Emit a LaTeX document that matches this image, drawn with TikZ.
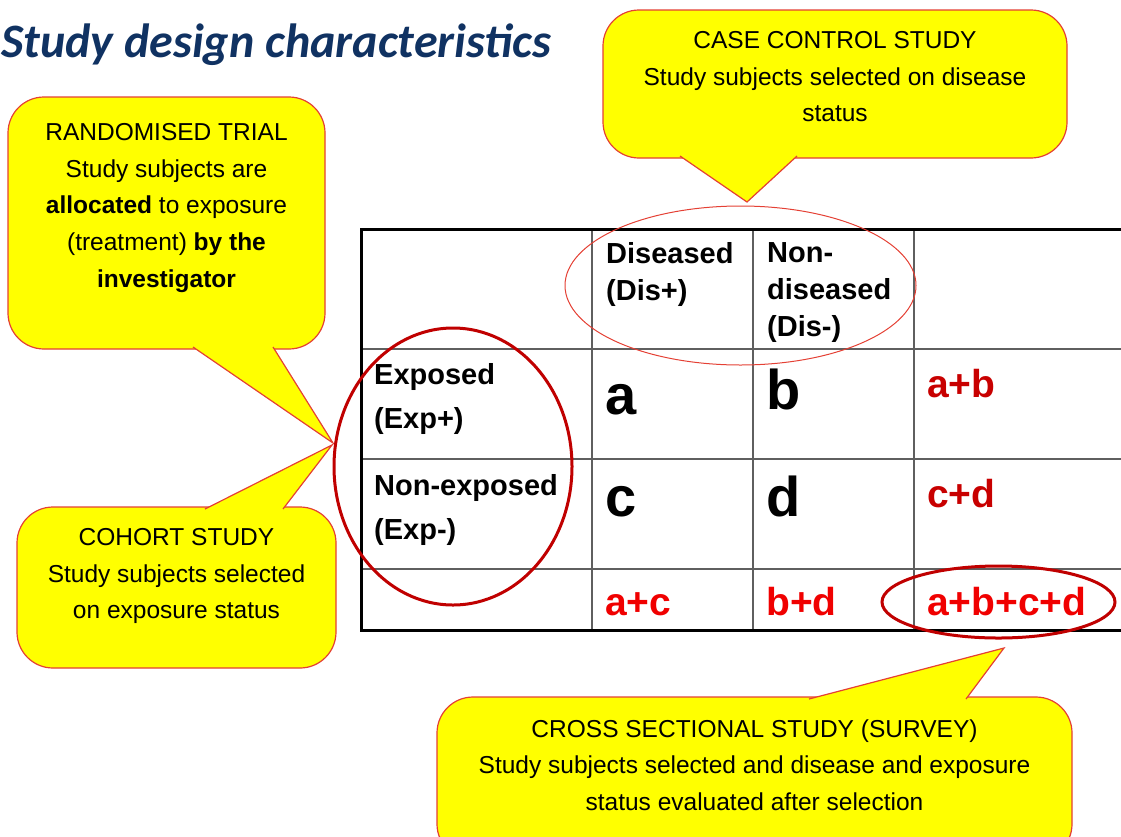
\documentclass[tikz,border=0pt]{standalone}
\usepackage{fontspec}
\setmainfont{Liberation Sans}
\newfontfamily\titlefont{Carlito}
\usepackage{xcolor}
\usetikzlibrary{positioning,shapes.geometric}
\definecolor{callyellow}{RGB}{255,255,0}
\definecolor{callred}{RGB}{228,64,52}
\definecolor{ringred}{RGB}{192,0,0}
\definecolor{sumred}{RGB}{200,0,0}
\definecolor{totred}{RGB}{240,0,0}
\definecolor{titleblue}{RGB}{16,50,98}
\definecolor{gridgray}{RGB}{95,95,95}

\begin{document}
\begin{tikzpicture}[%
    x=1pt,
    y=-1pt,
    callbox/.style={%
      rectangle,
      rounded corners=36pt,
      fill=callyellow,
      draw=callred,
      line width=1.2pt
    },
    calltext/.style={%
      align=center,
      inner sep=0pt,
      anchor=north,
      font=\fontsize{24.5}{36.6}\selectfont
    },
    tailfill/.style={fill=callyellow},
    tailline/.style={draw=callred, line width=1.2pt, line join=miter},
    hdr/.style={%
      align=left,
      inner sep=0pt,
      anchor=north west,
      font=\bfseries\fontsize{29}{37}\selectfont
    },
    rowhdr/.style={hdr, font=\bfseries\fontsize{29}{44}\selectfont},
    cellbig/.style={%
      inner sep=0pt,
      anchor=base west,
      font=\bfseries\fontsize{56}{60}\selectfont
    },
    cellsum/.style={%
      inner sep=0pt,
      anchor=base west,
      text=sumred,
      font=\bfseries\fontsize{39}{42}\selectfont
    },
    thinring/.style={ellipse, draw=callred, line width=1pt, inner sep=0pt},
    thickring/.style={ellipse, draw=ringred, line width=3pt, inner sep=0pt},
    tabthin/.style={draw=gridgray, line width=1.3pt},
    tabthick/.style={draw=black, line width=3pt}
  ]
    \useasboundingbox (0,0) rectangle (1121,836);
    \clip (0,0) rectangle (1121,836);

    % title
    \node[anchor=base west, inner sep=0pt, text=titleblue,
          font=\titlefont\bfseries\itshape\fontsize{48}{54}\selectfont]
          (title) at (1,57) {Study design characteristics};

    % callout boxes
    \node[callbox, minimum width=317pt, minimum height=252pt] (rtbox) at (166.5,223)   {};
    \node[callbox, minimum width=464pt, minimum height=148pt] (ccbox) at (835,84)      {};
    \node[callbox, minimum width=319pt, minimum height=161pt] (chbox) at (176.5,587.5) {};
    \node[callbox, minimum width=635pt, minimum height=163pt] (csbox) at (754.5,778.5) {};

    \node[calltext, below=27pt of rtbox.north] (rttext)
      {RANDOMISED TRIAL\\Study subjects are\\\textbf{allocated} to exposure\\(treatment) \textbf{by the}\\\textbf{investigator}};
    \node[calltext, below=22pt of ccbox.north] (cctext)
      {CASE CONTROL STUDY\\Study subjects selected on disease\\status};
    \node[calltext, below=22pt of chbox.north] (chtext)
      {COHORT STUDY\\Study subjects selected\\on exposure status};
    \node[calltext, below=23pt of csbox.north] (cstext)
      {CROSS SECTIONAL STUDY (SURVEY)\\Study subjects selected and disease and exposure\\status evaluated after selection};

    % tails
    \coordinate (rtb1) at (193,347);  \coordinate (rtb2) at (273,347);  \coordinate (rttip) at (333,443);
    \coordinate (ccb1) at (680,156);  \coordinate (ccb2) at (797,156);  \coordinate (cctip) at (747,202);
    \coordinate (chb1) at (205,509);  \coordinate (chb2) at (283,509);  \coordinate (chtip) at (332,445);
    \coordinate (csb1) at (809,699);  \coordinate (csb2) at (966,699);  \coordinate (cstip) at (1004,648);
    \foreach \t in {rt,cc,ch,cs} {
      \fill[tailfill] (\t b1) -- (\t tip) -- (\t b2) -- cycle;
      \draw[tailline] (\t b1) -- (\t tip) -- (\t b2);
    }

    % table
    \foreach \x in {592,753,914}
      \draw[tabthin] (\x,229) -- (\x,630);
    \foreach \y in {349,459,569}
      \draw[tabthin] (361,\y) -- (1121,\y);
    \draw[tabthick] (1121,229) -- (361,229) -- (361,630) -- (1121,630);

    \node[hdr] (dis)   at (606,242) {Diseased\\(Dis+)};
    \node[hdr] (nodis) at (767,242) {Non-\\diseased\\(Dis-)};
    \node[rowhdr] (exp)   at (374,363) {Exposed\\(Exp+)};
    \node[rowhdr] (noexp) at (374,474) {Non-exposed\\(Exp-)};

    \node[cellbig] (a) at (605,414) {a};
    \node[cellbig] (b) at (766,409) {b};
    \node[cellbig] (c) at (605,516) {c};
    \node[cellbig] (d) at (766,516) {d};

    \node[cellsum] (ab)   at (927,397) {a+b};
    \node[cellsum] (cd)   at (927,507) {c+d};
    \node[cellsum, text=totred] (ac)   at (605,615) {a+c};
    \node[cellsum, text=totred] (bd)   at (766,615) {b+d};
    \node[cellsum, text=totred] (abcd) at (927,615) {a+b+c+d};

    % rings
    \node[thinring,  minimum width=351pt, minimum height=159pt] (disring) at (740.5,285.5) {};
    \node[thickring, minimum width=238pt, minimum height=277pt] (expring) at (453,466.5)   {};
    \node[thickring, minimum width=233pt, minimum height=72pt]  (totring) at (998.5,602)   {};
  \end{tikzpicture}
\end{document}
